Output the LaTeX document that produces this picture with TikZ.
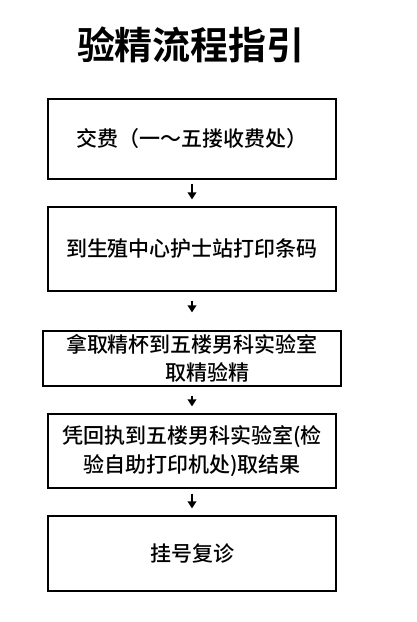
\documentclass[tikz,border=0pt]{standalone}
\usepackage{fontspec}
\setmainfont{Noto Sans CJK SC}[UprightFont=* Medium,BoldFont=* Bold]
\usetikzlibrary{arrows.meta}
\begin{document}
\begin{tikzpicture}[x=1pt,y=-1pt,
  box/.style={draw=black,line width=1.2pt,inner sep=0pt,minimum width=288pt,align=center,font=\fontsize{21}{28.5}\selectfont},
  arr/.style={draw=black,line width=1.8pt,-{Triangle[length=7pt,width=8.5pt]}}]
\useasboundingbox (0,0) rectangle (416,622);
\node[font=\bfseries\fontsize{38}{40}\selectfont] (t) at (191,45) {验精流程指引};
\node[box,minimum height=80pt] (b1) at (192,139) {交费（一～五搂收费处）};
\node[box,minimum height=84pt] (b2) at (192,249) {到生殖中心护士站打印条码};
\node[box,minimum height=55pt,minimum width=298pt] (b3) at (192,358.5) {拿取精杯到五楼男科实验室\\\hspace*{32pt}取精验精};
\node[box,minimum height=74pt] (b4) at (192,451) {凭回执到五楼男科实验室(检\\验自助打印机处)取结果};
\node[box,minimum height=75pt] (b5) at (192,553.5) {挂号复诊};
\draw[arr,shorten <=4pt,shorten >=7pt] (b1.south) -- (b2.north);
\draw[arr,shorten <=9pt,shorten >=18pt] (b2.south) -- (b3.north);
\draw[arr,shorten <=9pt,shorten >=7pt] (b3.south) -- (b4.north);
\draw[arr,shorten <=5pt,shorten >=7pt] (b4.south) -- (b5.north);
\end{tikzpicture}
\end{document}
